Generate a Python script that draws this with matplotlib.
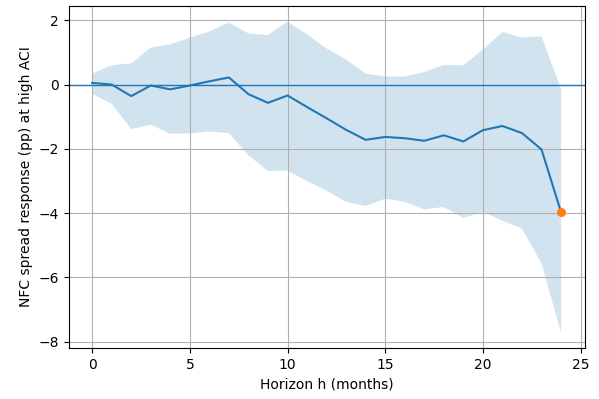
import numpy as np
import matplotlib
matplotlib.use("Agg")
from matplotlib import pyplot as plt

horizon = np.arange(25)
irf = [0.05, 0.0, -0.36, -0.03, -0.15, -0.03, 0.1, 0.22, -0.30, -0.57,
       -0.34, -0.70, -1.05, -1.41, -1.72, -1.63, -1.67, -1.75, -1.58, -1.77,
       -1.42, -1.29, -1.51, -2.02, -3.97]
upper = [0.34, 0.60, 0.66, 1.15, 1.25, 1.46, 1.65, 1.93, 1.59, 1.54,
         1.96, 1.56, 1.12, 0.78, 0.34, 0.25, 0.25, 0.39, 0.61, 0.60,
         1.09, 1.64, 1.46, 1.50, -0.14]
lower = [-0.29, -0.60, -1.39, -1.25, -1.53, -1.52, -1.46, -1.51, -2.20, -2.69,
         -2.68, -3.00, -3.30, -3.65, -3.78, -3.55, -3.65, -3.88, -3.81, -4.15,
         -3.96, -4.24, -4.48, -5.57, -7.71]

fig, ax = plt.subplots(figsize=(5.99, 3.99), dpi=100)
ax.fill_between(horizon, lower, upper, alpha=0.2)
ax.plot(horizon, irf, linewidth=1.5)
ax.axhline(0, linewidth=1)
ax.scatter([horizon[-1]], [irf[-1]], color="C1", s=30, zorder=3)
ax.set_xlabel("Horizon h (months)")
ax.set_ylabel("NFC spread response (pp) at high ACI")
ax.grid(True)
fig.subplots_adjust(left=0.1147, right=0.9758, bottom=0.128, top=0.985)
fig.savefig("out.png")
